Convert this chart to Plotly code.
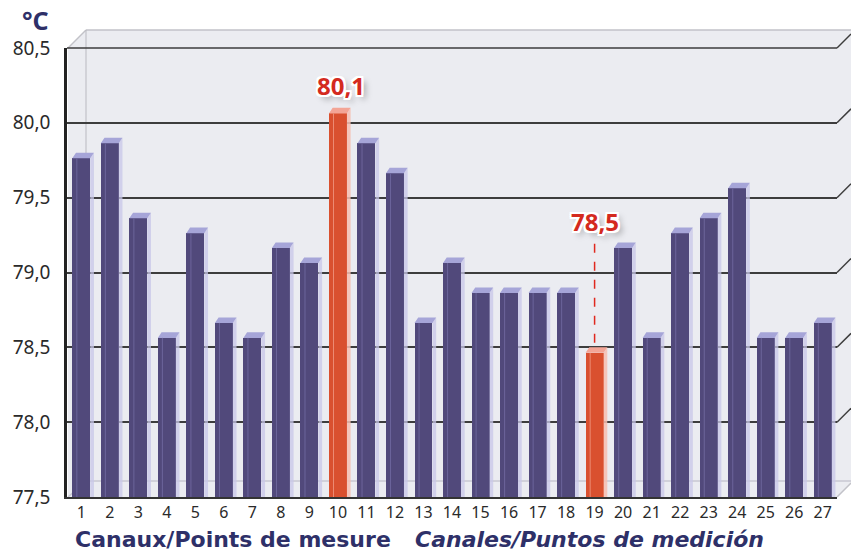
import plotly.graph_objects as go

# ---------------- data ----------------
channels = [str(i) for i in range(1, 28)]
temps = [79.8, 79.9, 79.4, 78.6, 79.3, 78.7, 78.6, 79.2, 79.1, 80.1,
         79.9, 79.7, 78.7, 79.1, 78.9, 78.9, 78.9, 78.9, 78.5, 79.2,
         78.6, 79.3, 79.4, 79.6, 78.6, 78.6, 78.7]
y_ticks = [77.5, 78.0, 78.5, 79.0, 79.5, 80.0, 80.5]
y_tick_text = ["77,5", "78,0", "78,5", "79,0", "79,5", "80,0", "80,5"]
unit_label = "°C"
x_title_fr = "Canaux/Points de mesure"
x_title_es = "Canales/Puntos de medición"

# ---------------- style / geometry ----------------
W, H = 851, 553
L, R, T, B = 67, 14, 48, 56
PW, PH = W - L - R, H - T - B
YMIN, YMAX = 77.5, 80.5
BAR_W = 0.63
DX = 0.13      # 3D depth in x (category units)
DY = 0.037     # 3D depth in y (value units)
NAVY = "#2e3068"
BAR_COL, BAR_CAP, BAR_SIDE, BAR_LINE = "#51497b", "#a6a5d8", "rgba(200,199,232,0.75)", "#6c659b"
HI_COL, HI_CAP, HI_SIDE, HI_LINE = "#d9502f", "#f3a596", "rgba(246,190,178,0.85)", "#ec8a72"
FONT = "Noto Sans"
TITLE_FONT = "DejaVu Sans"


def px(x):
    return (x - L) / PW


def py(y):
    return (H - B - y) / PH


xs = list(range(1, len(temps) + 1))
imax = max(range(len(temps)), key=lambda i: temps[i])
imin = min(range(len(temps)), key=lambda i: temps[i])
hi = {imax, imin}

fig = go.Figure()

cols = [HI_COL if i in hi else BAR_COL for i in range(len(temps))]
fig.add_trace(go.Bar(
    x=xs, y=[v - DY - YMIN for v in temps], base=YMIN, width=BAR_W,
    marker=dict(color=cols, line=dict(width=0)), hoverinfo="skip", showlegend=False))


def polys(idx, kind):
    xx, yy = [], []
    for i in idx:
        c, v = xs[i], temps[i]
        x0, x1 = c - BAR_W / 2, c + BAR_W / 2
        if kind == "cap":
            px_ = [x0, x1, x1 + DX, x0 + DX, x0]
            py_ = [v - DY, v - DY, v, v, v - DY]
        else:
            px_ = [x1, x1, x1 + DX, x1 + DX, x1]
            py_ = [YMIN, v - DY, v, YMIN, YMIN]
        xx += px_ + [None]
        yy += py_ + [None]
    return xx, yy


def inner_lines(idx):
    xx, yy = [], []
    for i in idx:
        c, v = xs[i], temps[i]
        xl = c - BAR_W / 2 + 0.16
        xx += [xl, xl, None]
        yy += [YMIN, v - DY, None]
    return xx, yy


normal = [i for i in range(len(temps)) if i not in hi]
special = sorted(hi)
for idx, side, cap, ln in [(normal, BAR_SIDE, BAR_CAP, BAR_LINE), (special, HI_SIDE, HI_CAP, HI_LINE)]:
    sx, sy = polys(idx, "side")
    fig.add_trace(go.Scatter(x=sx, y=sy, fill="toself", fillcolor=side, mode="none",
                             hoverinfo="skip", showlegend=False))
    cx, cy = polys(idx, "cap")
    fig.add_trace(go.Scatter(x=cx, y=cy, fill="toself", fillcolor=cap, mode="none",
                             hoverinfo="skip", showlegend=False))
    lx, ly = inner_lines(idx)
    fig.add_trace(go.Scatter(x=lx, y=ly, mode="lines", line=dict(color=ln, width=1),
                             hoverinfo="skip", showlegend=False))

# value callouts
label_font = dict(family=FONT, size=24, color="#d42a1e", weight="bold",
                  shadow="-2px -2px 0 white, 2px -2px 0 white, -2px 2px 0 white, 2px 2px 0 white, "
                         "0 -2px 0 white, 0 2px 0 white, -2px 0 0 white, 2px 0 0 white, 4px 4px 6px rgba(0,0,0,0.35)")
MIN_LABEL_RISE = 0.84
fig.add_trace(go.Scatter(x=[xs[imin], xs[imin]], y=[temps[imin] + 0.03, temps[imin] + MIN_LABEL_RISE - 0.1],
                         mode="lines", line=dict(color="#e0281e", width=1.5, dash="dash"),
                         hoverinfo="skip", showlegend=False))


def fmt(v):
    return f"{v:.1f}".replace(".", ",")


fig.add_annotation(x=xs[imax] + 0.12, y=temps[imax], yshift=22, text=fmt(temps[imax]),
                   showarrow=False, font=label_font)
fig.add_annotation(x=xs[imin], y=temps[imin] + MIN_LABEL_RISE, text=fmt(temps[imin]),
                   showarrow=False, font=label_font)

# 3D frame shapes
BG = "#ebecf1"
EDGE = "#c2c2c8"
bg_path = (f"M {px(68)} {py(497)} L {px(68)} {py(48)} L {px(86)} {py(30)} L {px(851)} {py(30)} "
           f"L {px(851)} {py(484)} L {px(838)} {py(497)} Z")
shapes = [
    dict(type="path", path=bg_path, xref="paper", yref="paper", fillcolor=BG, line=dict(width=0), layer="below"),
    dict(type="line", xref="paper", yref="paper", x0=px(86), y0=py(30), x1=px(851), y1=py(30),
         line=dict(color=EDGE, width=1.5), layer="below"),
    dict(type="line", xref="paper", yref="paper", x0=px(68), y0=py(48), x1=px(86), y1=py(30),
         line=dict(color=EDGE, width=1.5), layer="below"),
    dict(type="line", xref="paper", yref="paper", x0=px(86), y0=py(30), x1=px(86), y1=py(481),
         line=dict(color="#b9b9c0", width=1), layer="below"),
    dict(type="line", xref="paper", yref="paper", x0=px(86), y0=py(481), x1=px(851), y1=py(481),
         line=dict(color="#c9c9d2", width=1.5), layer="below"),
    dict(type="line", xref="paper", yref="paper", x0=px(68), y0=py(497), x1=px(86), y1=py(481),
         line=dict(color="#c9c9d2", width=1.5), layer="below"),
]
for t in y_ticks:
    yp = (t - YMIN) / (YMAX - YMIN)
    col = "#c2c2c8" if t == YMIN else "#3d3d3d"
    shapes.append(dict(type="line", xref="paper", yref="paper", x0=1.0, y0=yp,
                       x1=1.0 + 14 / PW, y1=yp + 14 / PH, line=dict(color=col, width=1.5), layer="below"))
shapes.append(dict(type="line", xref="paper", yref="paper", x0=0, y0=1, x1=1, y1=1,
                   line=dict(color="#3d3d3d", width=1.5), layer="below"))

fig.add_annotation(x=px(20), y=py(20), xref="paper", yref="paper", xanchor="left", yanchor="middle",
                   text=unit_label, showarrow=False, font=dict(family=FONT, size=25, color=NAVY, weight="bold"))
fig.add_annotation(x=px(74), y=py(539), xref="paper", yref="paper", xanchor="left", yanchor="middle",
                   text=x_title_fr, showarrow=False, borderpad=0,
                   font=dict(family=TITLE_FONT, size=22, color=NAVY, weight="bold"))
fig.add_annotation(x=px(414), y=py(539), xref="paper", yref="paper", xanchor="left", yanchor="middle",
                   text=x_title_es, showarrow=False, borderpad=0,
                   font=dict(family=TITLE_FONT, size=22, color=NAVY, weight="bold", style="italic"))

fig.update_layout(
    width=W, height=H, margin=dict(l=L, r=R, t=T, b=B, pad=0),
    paper_bgcolor="white", plot_bgcolor="rgba(0,0,0,0)",
    bargap=0, shapes=shapes, showlegend=False,
    font=dict(family=FONT, color="#2a2a2a"),
)
fig.update_xaxes(range=[0.5, 27.5], tickvals=xs, ticktext=channels, showgrid=False, zeroline=False,
                 showline=True, linecolor="#333333", linewidth=2, layer="below traces",
                 ticks="", tickfont=dict(size=16, color="#2a2a2a"), ticklabelstandoff=0, fixedrange=True)
fig.update_yaxes(range=[YMIN, YMAX], tickvals=y_ticks, ticktext=y_tick_text, showgrid=True,
                 gridcolor="#3d3d3d", gridwidth=1.5, zeroline=False, showline=True,
                 linecolor="#222222", linewidth=2.5, ticks="", ticklabelstandoff=10,
                 tickfont=dict(size=19, color="#2a2a2a"), fixedrange=True)

fig.write_html("out.html", config={"displayModeBar": False},
               post_script="document.body.style.margin='0';document.body.style.overflow='hidden';")
